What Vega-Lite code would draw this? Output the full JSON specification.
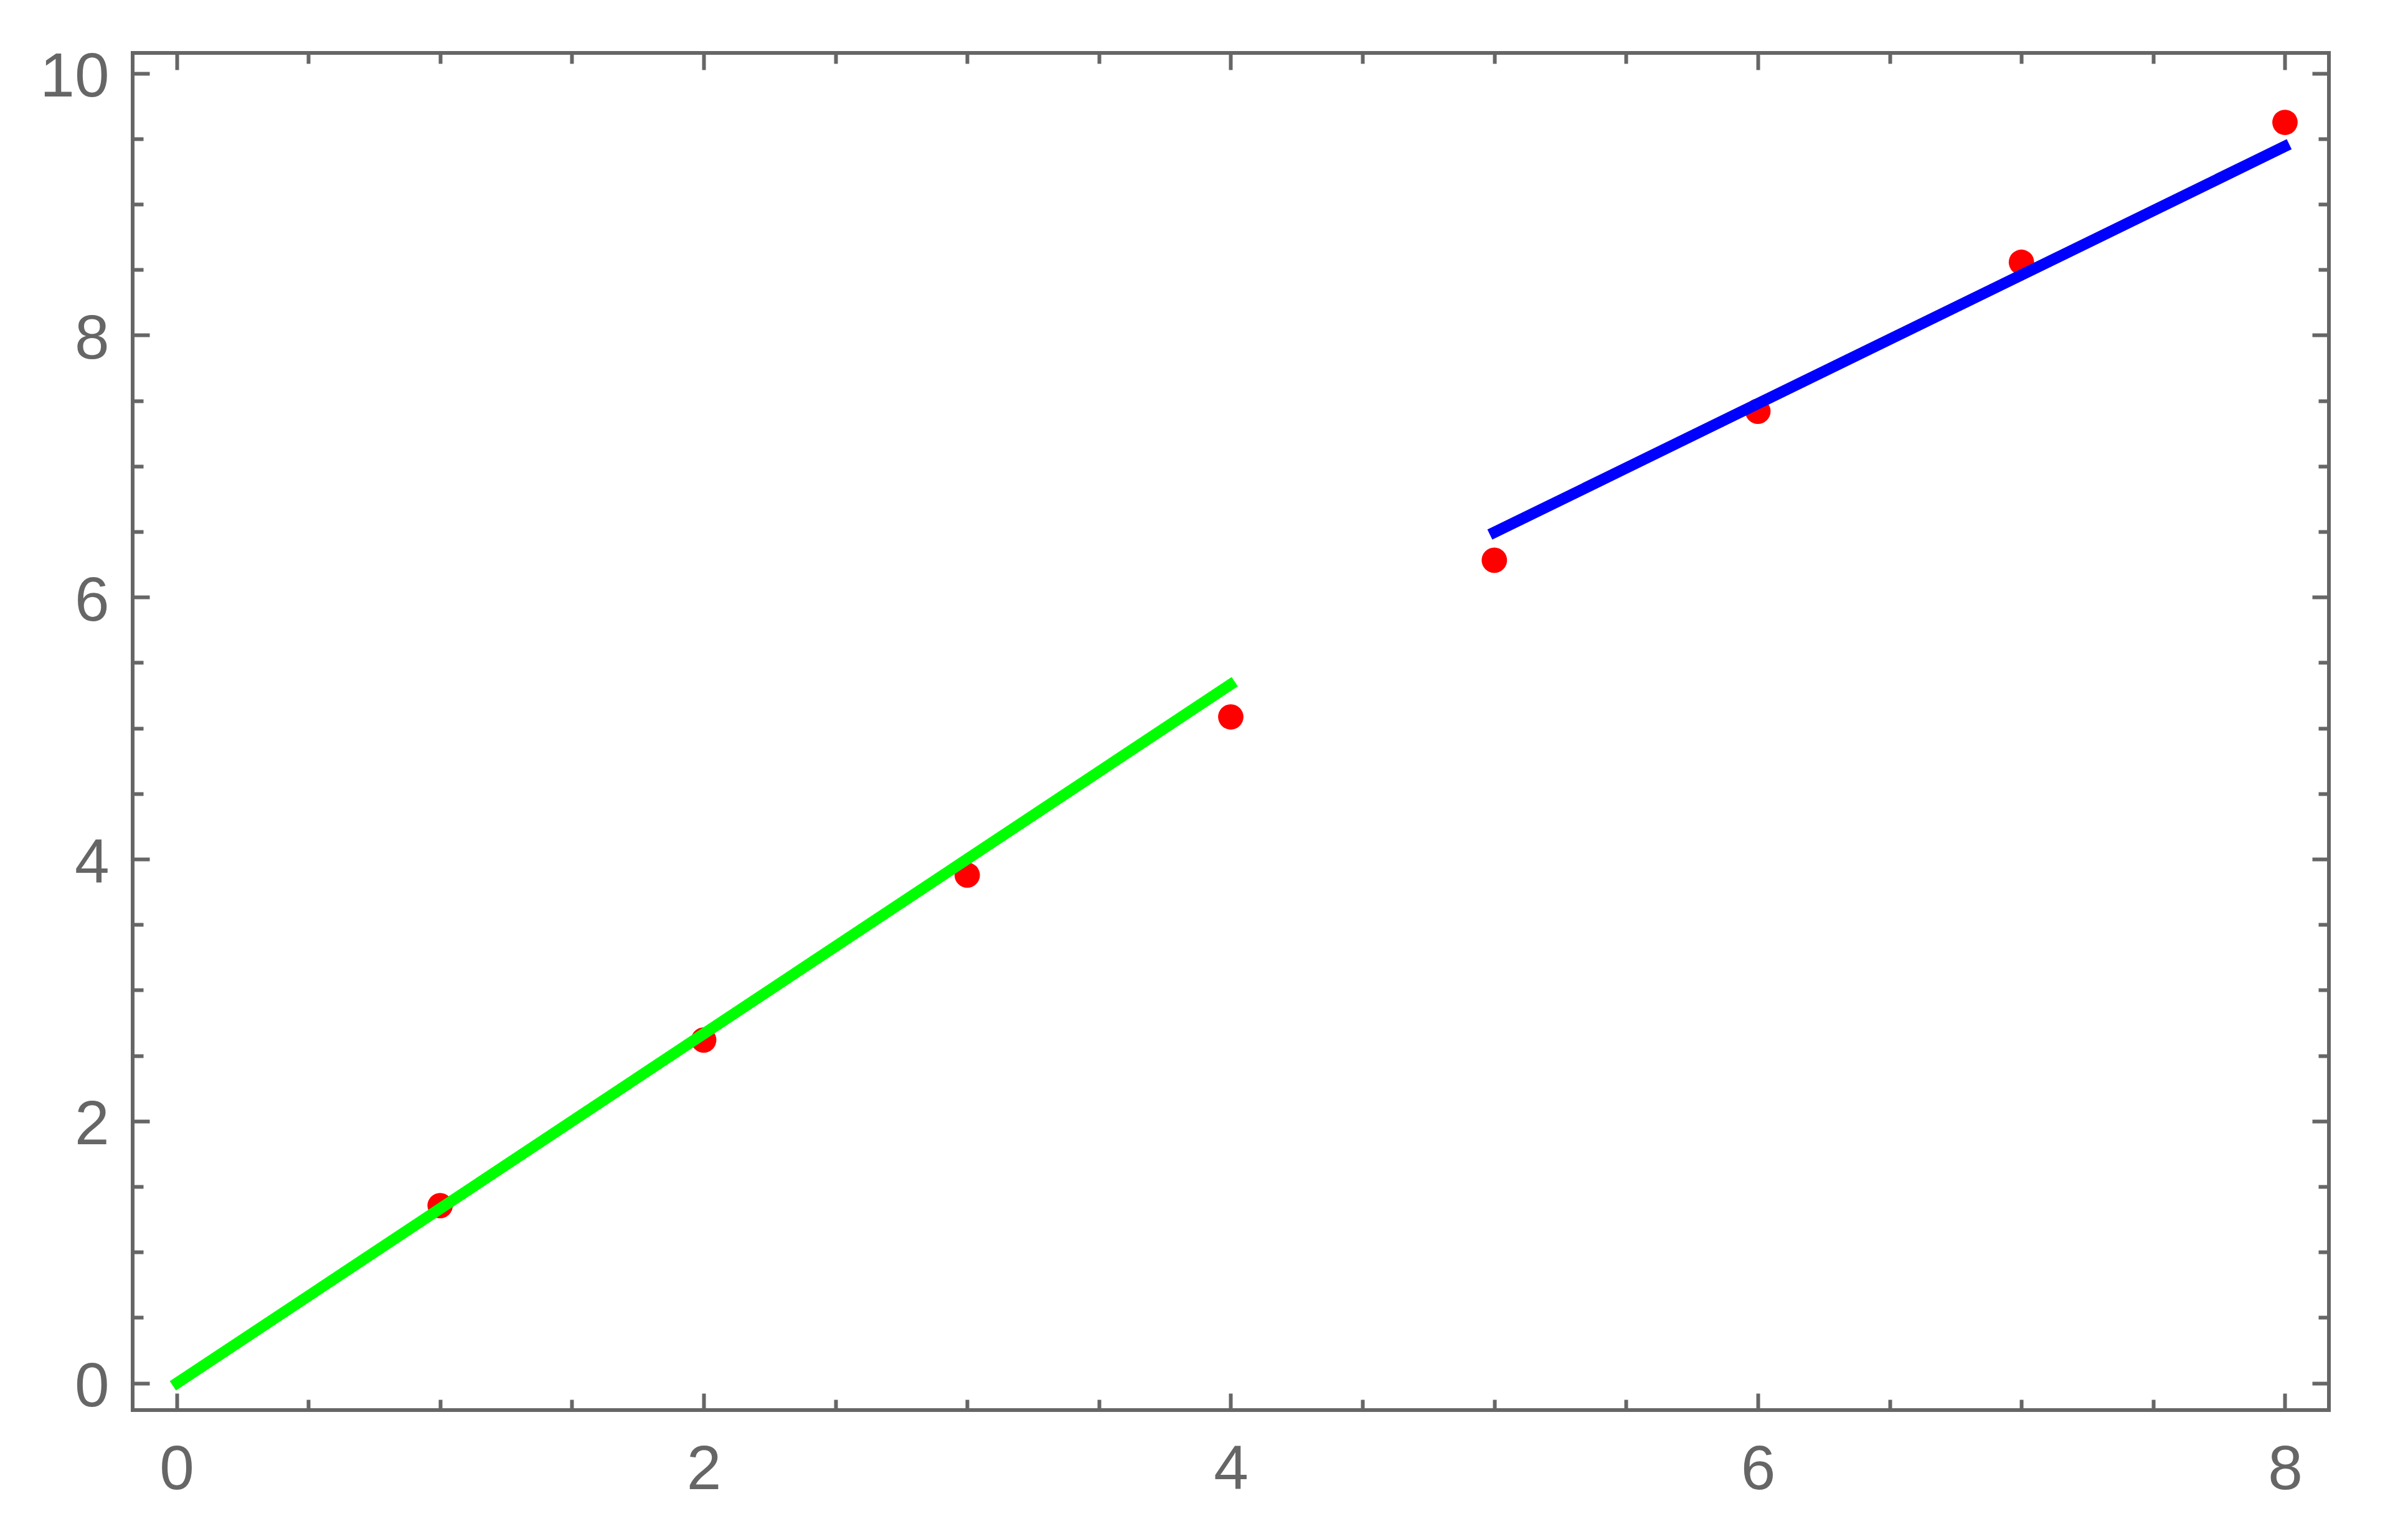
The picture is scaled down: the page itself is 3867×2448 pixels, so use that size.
{
  "$schema": "https://vega.github.io/schema/vega-lite/v6.json",
  "width": 3527,
  "height": 2180,
  "autosize": "none",
  "padding": {"left": 213, "top": 85, "right": 127, "bottom": 183},
  "background": "white",
  "config": {
    "view": {"stroke": "#666666", "strokeWidth": 6},
    "axis": {
      "domain": false,
      "grid": false,
      "tickColor": "#666666",
      "tickWidth": 6,
      "labelColor": "#666666",
      "labelFont": "Liberation Sans",
      "labelFontSize": 100,
      "labelFlush": false,
      "labelOverlap": false,
      "labelBound": false
    }
  },
  "datasets": {
    "ptsA": [
      {"x": 1, "y": 1.355},
      {"x": 2, "y": 2.619},
      {"x": 3, "y": 3.878},
      {"x": 4, "y": 5.086}
    ],
    "ptsB": [
      {"x": 5, "y": 6.282},
      {"x": 6, "y": 7.419},
      {"x": 7, "y": 8.557},
      {"x": 8, "y": 9.625}
    ],
    "fit1": [
      {"x": -0.014, "y": -0.021},
      {"x": 4.015, "y": 5.355}
    ],
    "fit2": [
      {"x": 4.983, "y": 6.478},
      {"x": 8.016, "y": 9.458}
    ]
  },
  "resolve": {"axis": {"x": "independent", "y": "independent"}},
  "layer": [
    {
      "data": {"name": "ptsA"},
      "mark": {"type": "circle", "size": 1662, "color": "#ff0000", "opacity": 1},
      "encoding": {
        "x": {"field": "x", "type": "quantitative",
          "scale": {"domain": [-0.1667, 8.1667], "nice": false, "zero": false},
          "axis": {"orient": "bottom", "title": null, "values": [0, 2, 4, 6, 8], "tickSize": -27, "labelPadding": 74, "format": "d"}},
        "y": {"field": "y", "type": "quantitative",
          "scale": {"domain": [-0.206, 10.155], "nice": false, "zero": false},
          "axis": {"orient": "left", "title": null, "values": [0, 2, 4, 6, 8, 10], "tickSize": -27, "labelPadding": 65, "labelOffset": 7, "format": "d"}}
      }
    },
    {
      "data": {"name": "ptsB"},
      "mark": {"type": "circle", "size": 1662, "color": "#ff0000", "opacity": 1},
      "encoding": {
        "x": {"field": "x", "type": "quantitative",
          "scale": {"domain": [-0.1667, 8.1667], "nice": false, "zero": false},
          "axis": {"orient": "bottom", "title": null, "values": [0.5, 1, 1.5, 2.5, 3, 3.5, 4.5, 5, 5.5, 6.5, 7, 7.5], "tickSize": -17, "labels": false}},
        "y": {"field": "y", "type": "quantitative",
          "scale": {"domain": [-0.206, 10.155], "nice": false, "zero": false},
          "axis": {"orient": "left", "title": null, "values": [0.5, 1, 1.5, 2.5, 3, 3.5, 4.5, 5, 5.5, 6.5, 7, 7.5, 8.5, 9, 9.5], "tickSize": -17, "labels": false}}
      }
    },
    {
      "data": {"name": "fit1"},
      "mark": {"type": "line", "color": "#00ff00", "strokeWidth": 18, "strokeCap": "butt"},
      "encoding": {
        "x": {"field": "x", "type": "quantitative",
          "scale": {"domain": [-0.1667, 8.1667], "nice": false, "zero": false},
          "axis": {"orient": "top", "title": null, "values": [0, 2, 4, 6, 8], "tickSize": -27, "labels": false}},
        "y": {"field": "y", "type": "quantitative",
          "scale": {"domain": [-0.206, 10.155], "nice": false, "zero": false},
          "axis": {"orient": "right", "title": null, "values": [0, 2, 4, 6, 8, 10], "tickSize": -27, "labels": false}}
      }
    },
    {
      "data": {"name": "fit2"},
      "mark": {"type": "line", "color": "#0000ff", "strokeWidth": 18, "strokeCap": "butt"},
      "encoding": {
        "x": {"field": "x", "type": "quantitative",
          "scale": {"domain": [-0.1667, 8.1667], "nice": false, "zero": false},
          "axis": {"orient": "top", "title": null, "values": [0.5, 1, 1.5, 2.5, 3, 3.5, 4.5, 5, 5.5, 6.5, 7, 7.5], "tickSize": -17, "labels": false}},
        "y": {"field": "y", "type": "quantitative",
          "scale": {"domain": [-0.206, 10.155], "nice": false, "zero": false},
          "axis": {"orient": "right", "title": null, "values": [0.5, 1, 1.5, 2.5, 3, 3.5, 4.5, 5, 5.5, 6.5, 7, 7.5, 8.5, 9, 9.5], "tickSize": -17, "labels": false}}
      }
    }
  ]
}
